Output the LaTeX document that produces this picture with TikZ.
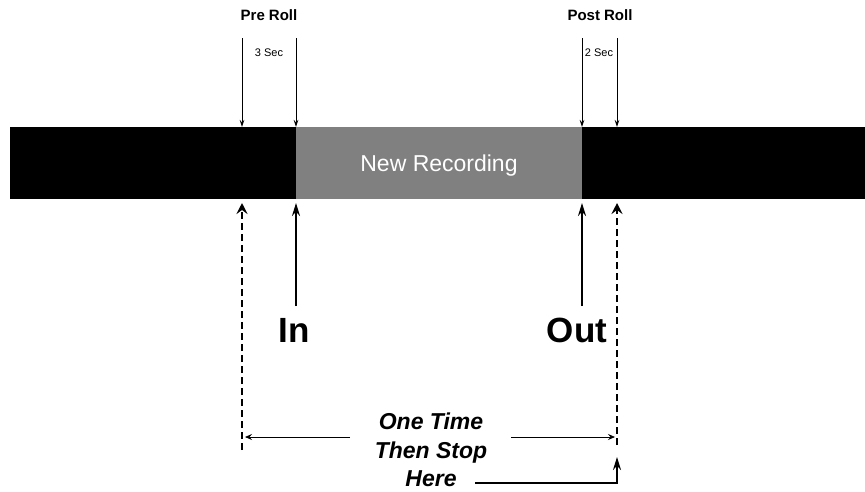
\documentclass[tikz,border=0pt]{standalone}
\usepackage{fontspec}
\setmainfont{Liberation Sans}
\usetikzlibrary{arrows.meta}

\begin{document}
\begin{tikzpicture}[x=1pt,y=-1pt,
    heading/.style ={font=\bfseries\fontsize{15}{17}\selectfont, inner sep=0pt},
    seconds/.style ={font=\fontsize{11}{13}\selectfont, inner sep=0pt},
    cuelabel/.style ={font=\bfseries\fontsize{35}{38}\selectfont, inner sep=0pt},
    note/.style ={font=\bfseries\itshape\fontsize{23}{28.5}\selectfont, align=center, inner sep=0pt},
    roll/.style ={-{Stealth[length=7pt,width=4.5pt]}, line width=0.8pt},
    span/.style ={-{Stealth[length=7pt,width=6pt,inset=2.5pt]}, line width=0.8pt},
    cue/.style ={-{Stealth[length=13pt,width=8pt]}, line width=2pt},
    limit/.style ={-{Stealth[length=11pt,width=11pt,inset=4pt]}, line width=2pt, dash pattern=on 7pt off 4pt}]
   \useasboundingbox (0,0) rectangle (865,491);

   % tape
   \fill (10,127) rectangle (296,199);
   \fill (582,127) rectangle (865,199);
   \node[fill=gray, minimum width=286pt, minimum height=72pt, inner sep=0pt, text depth=0pt,
         text=white, font=\fontsize{23}{25}\selectfont] (rec) at (439,163) {New Recording};

   \coordinate (preL) at (242,127);
   \coordinate (preR) at (296,127);
   \coordinate (postL) at (582,127);
   \coordinate (postR) at (617,127);
   \coordinate (preL top) at (242,38);
   \coordinate (preR top) at (296,38);
   \coordinate (postL top) at (582,38);
   \coordinate (postR top) at (617,38);
   \coordinate (preL bot) at (242,203);
   \coordinate (preR bot) at (296,203);
   \coordinate (postL bot) at (582,203);
   \coordinate (postR bot) at (617,203);
   \coordinate (preL end) at (242,450);
   \coordinate (postR end) at (617,445);
   \coordinate (in base) at (296,306);
   \coordinate (out base) at (582,306);

   \node[heading] (pre)  at (269,15)  {Pre Roll};
   \node[heading] (post) at (600,15)  {Post Roll};
   \node[seconds] (three) at (269,53) {3 Sec};
   \node[seconds] (two)   at (599,53) {2 Sec};
   \node[cuelabel] (in)  at (294,330) {In};
   \node[cuelabel] (out) at (577,330) {Out};
   \node[note] (once) at (431,450) {One Time\\Then Stop\\Here};

   \draw[roll] (preL top) to (preL);
   \draw[roll] (preR top) to (preR);
   \draw[roll] (postL top) to (postL);
   \draw[roll] (postR top) to (postR);

   \draw[cue] (in base) to (preR bot);
   \draw[cue] (out base) to (postL bot);
   \draw[limit] (preL end) to (preL bot);
   \draw[limit] (postR end) to (postR bot);

   \coordinate (span left) at (245,437);
   \coordinate (span right) at (615,437);
   \coordinate (span a) at (350,437);
   \coordinate (span b) at (511,437);
   \draw[span] (span a) to (span left);
   \draw[span] (span b) to (span right);

   \coordinate (here) at (475,483);
   \coordinate (stop) at (617,457);
   \draw[cue] (here) -| (stop);
\end{tikzpicture}
\end{document}
